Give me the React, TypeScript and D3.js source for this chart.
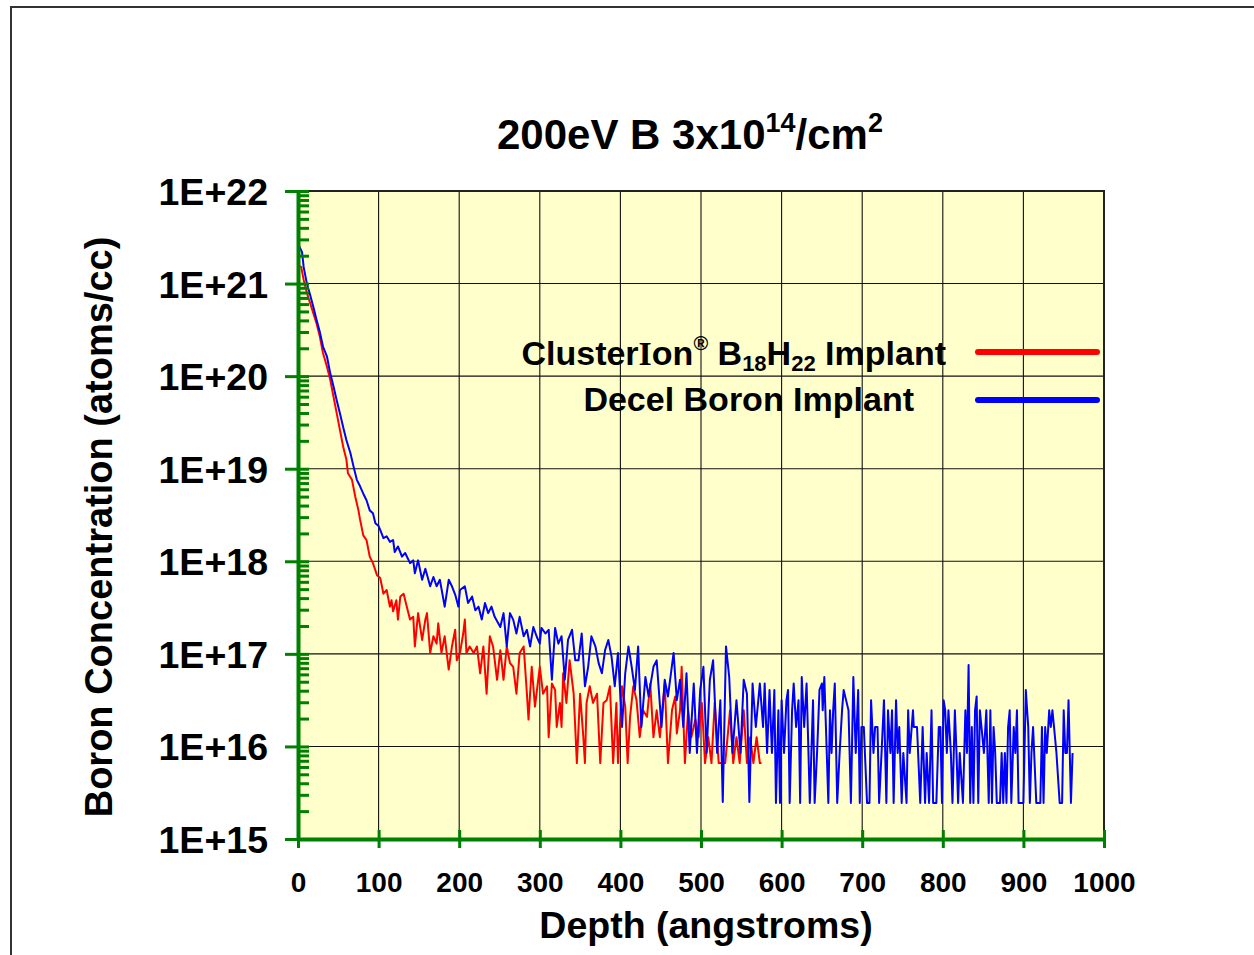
import React, { useRef, useEffect } from "react";
import * as d3 from "d3";

// depth (angstroms), log10 of boron concentration (atoms/cc)
const clusterIonProfile: [number, number][] = [
  [1, 21.19], [4, 21.18], [7, 21.04], [11, 20.9], [15, 20.79], [19, 20.68], [23, 20.57], [27, 20.43],
  [31, 20.25], [36, 20.1], [40, 19.96], [44, 19.78], [48, 19.6], [52, 19.42], [56, 19.24], [60, 19.1],
  [62, 18.95], [67, 18.88], [71, 18.7], [75, 18.55], [77, 18.45], [81, 18.28], [85, 18.23], [89, 18.05],
  [93, 17.98], [98, 17.85], [102, 17.82], [106, 17.65], [110, 17.69], [114, 17.51], [116, 17.58], [118, 17.46],
  [122, 17.58], [124, 17.37], [127, 17.62], [131, 17.65], [135, 17.51], [139, 17.37], [143, 17.4], [145, 17.08],
  [149, 17.44], [154, 17.15], [158, 17.37], [160, 17.44], [164, 17.01], [168, 17.19], [172, 17.11], [174, 17.33],
  [178, 17.01], [182, 17.19], [187, 16.83], [191, 17.08], [195, 17.26], [197, 16.93], [201, 17.01], [205, 17.22],
  [207, 17.37], [209, 17.01], [213, 17.08], [218, 17.01], [222, 17.08], [226, 16.79], [230, 17.08], [234, 16.57],
  [238, 17.19], [242, 17.08], [247, 16.72], [251, 17.04], [255, 16.72], [259, 17.08], [263, 16.9], [267, 16.86],
  [271, 16.57], [275, 17.01], [280, 17.08], [284, 16.57], [286, 16.29], [290, 16.86], [294, 16.43], [300, 16.86],
  [304, 16.57], [309, 16.65], [311, 16.1], [315, 16.68], [319, 16.61], [321, 16.21], [325, 16.47], [327, 16.21],
  [329, 16.79], [333, 16.47], [337, 16.93], [342, 16.57], [346, 15.82], [350, 16.57], [354, 16.1], [356, 15.82],
  [358, 16.47], [362, 16.65], [366, 16.47], [371, 16.57], [375, 15.82], [379, 16.47], [383, 16.5], [387, 16.65],
  [391, 15.82], [395, 16.47], [397, 15.82], [402, 16.65], [406, 16.43], [409, 15.82], [412, 16.32], [416, 16.65],
  [420, 16.5], [424, 16.1], [428, 16.39], [433, 16.32], [437, 16.68], [441, 16.1], [445, 16.39], [449, 16.1],
  [455, 16.68], [459, 15.82], [464, 16.39], [468, 16.54], [470, 16.14], [474, 16.39], [476, 16.86], [480, 15.82],
  [484, 16.39], [488, 16.1], [493, 16.29], [497, 16.1], [501, 16.47], [505, 15.82], [509, 16.1], [513, 15.82],
  [517, 16.47], [522, 15.82], [530, 15.82], [536, 16.39], [540, 15.82], [544, 16.1], [548, 15.82], [553, 16.39],
  [557, 15.82], [561, 16.1], [565, 15.82], [569, 16.1], [573, 15.82], [575, 15.82],
];

const decelBoronProfile: [number, number][] = [
  [0, 21.43], [5, 21.34], [7, 21.18], [11, 21.0], [15, 20.88], [19, 20.75], [23, 20.61], [27, 20.48],
  [31, 20.32], [36, 20.21], [40, 20.03], [44, 19.89], [48, 19.74], [52, 19.6], [56, 19.45], [60, 19.31],
  [65, 19.17], [69, 19.02], [73, 18.88], [77, 18.81], [81, 18.73], [85, 18.66], [89, 18.55], [93, 18.52],
  [96, 18.41], [100, 18.38], [102, 18.34], [106, 18.25], [110, 18.27], [114, 18.21], [118, 18.23], [120, 18.1],
  [124, 18.16], [129, 18.05], [133, 18.09], [139, 17.98], [143, 18.01], [145, 17.87], [149, 18.01], [154, 17.8],
  [158, 17.92], [164, 17.73], [168, 17.83], [172, 17.73], [176, 17.8], [182, 17.51], [187, 17.8], [191, 17.73],
  [195, 17.64], [199, 17.51], [201, 17.69], [207, 17.73], [211, 17.55], [216, 17.62], [220, 17.47], [224, 17.51],
  [228, 17.37], [232, 17.55], [236, 17.44], [240, 17.51], [244, 17.4], [251, 17.29], [255, 17.44], [259, 17.08],
  [263, 17.44], [267, 17.37], [271, 17.22], [275, 17.4], [280, 17.19], [284, 17.26], [288, 17.08], [292, 17.29],
  [296, 17.19], [300, 17.11], [302, 17.28], [307, 17.22], [311, 17.26], [315, 16.72], [319, 17.28], [323, 17.11],
  [327, 17.19], [331, 16.72], [335, 17.15], [340, 17.26], [344, 16.93], [348, 16.93], [352, 17.22], [356, 16.65],
  [360, 16.86], [364, 17.19], [369, 17.08], [373, 16.9], [377, 16.79], [381, 17.04], [385, 17.15], [389, 16.97],
  [393, 16.65], [397, 17.01], [402, 16.21], [406, 16.79], [410, 17.08], [414, 16.86], [418, 16.61], [422, 17.08],
  [426, 16.21], [431, 16.75], [435, 16.54], [441, 16.86], [445, 16.93], [451, 16.21], [455, 16.72], [459, 16.54],
  [466, 17.01], [470, 16.5], [474, 16.72], [478, 16.21], [482, 16.79], [486, 15.93], [491, 16.68], [495, 15.93],
  [499, 16.61], [503, 16.86], [507, 15.93], [511, 16.72], [515, 16.93], [520, 15.93], [524, 16.5], [527, 15.4],
  [531, 17.08], [535, 16.75], [539, 15.93], [544, 16.5], [549, 15.93], [553, 16.72], [557, 16.57], [560, 15.4],
  [564, 16.68], [568, 16.21], [573, 16.68], [577, 16.21], [579, 16.68], [582, 15.93], [585, 16.61], [588, 15.93],
  [591, 16.61], [593, 15.39], [596, 16.39], [598, 15.39], [600, 16.5], [603, 15.93], [606, 16.5], [608, 16.61],
  [610, 15.39], [613, 16.39], [615, 16.68], [618, 16.21], [621, 16.5], [623, 15.39], [625, 16.75], [628, 16.21],
  [631, 16.68], [635, 15.39], [639, 16.5], [641, 15.39], [644, 15.93], [647, 16.61], [650, 16.68], [651, 16.39],
  [653, 16.75], [655, 16.21], [658, 15.39], [660, 16.39], [662, 15.93], [664, 16.39], [666, 16.68], [669, 15.39],
  [672, 15.93], [675, 16.39], [677, 16.61], [680, 16.5], [683, 16.39], [686, 15.39], [689, 16.75], [692, 15.93],
  [695, 16.61], [697, 15.39], [699, 16.21], [702, 16.21], [706, 15.39], [709, 15.39], [711, 16.5], [714, 15.93],
  [716, 16.21], [719, 16.21], [721, 15.39], [724, 15.93], [727, 16.5], [730, 15.39], [732, 16.39], [735, 15.93],
  [737, 16.39], [739, 15.39], [742, 16.5], [744, 15.93], [746, 16.21], [749, 15.39], [751, 15.93], [755, 15.39],
  [757, 16.39], [759, 15.93], [763, 16.39], [764, 16.21], [768, 16.21], [772, 15.39], [775, 16.21], [778, 15.39],
  [780, 15.93], [783, 15.39], [786, 16.39], [788, 15.39], [792, 15.39], [795, 16.21], [797, 16.21], [799, 15.39],
  [801, 16.5], [803, 16.39], [805, 15.93], [807, 16.39], [810, 15.93], [812, 15.39], [815, 16.39], [817, 15.93],
  [819, 15.39], [821, 15.93], [825, 15.39], [828, 16.39], [830, 15.93], [832, 16.88], [834, 15.39], [836, 16.21],
  [838, 15.39], [840, 16.39], [842, 16.54], [844, 15.39], [846, 16.39], [848, 16.21], [851, 15.93], [854, 16.39],
  [857, 15.39], [859, 16.39], [861, 15.39], [863, 16.21], [865, 15.93], [867, 15.39], [871, 15.39], [873, 15.93],
  [875, 15.39], [877, 15.93], [879, 15.39], [881, 16.21], [883, 16.39], [885, 15.39], [888, 16.21], [890, 15.93],
  [892, 16.39], [894, 15.39], [900, 15.39], [903, 16.61], [906, 16.21], [908, 15.39], [910, 15.93], [912, 16.21],
  [916, 15.39], [921, 15.39], [923, 16.21], [925, 15.39], [927, 16.21], [929, 15.93], [932, 16.39], [934, 16.21],
  [936, 16.39], [938, 16.21], [941, 15.93], [945, 15.39], [948, 15.39], [950, 16.39], [952, 15.93], [954, 15.93],
  [956, 16.5], [959, 15.39], [961, 15.93],
];

const xTickValues = [0, 100, 200, 300, 400, 500, 600, 700, 800, 900, 1000];
const yDecades = [15, 16, 17, 18, 19, 20, 21, 22];
const yTickLabels = ["1E+15", "1E+16", "1E+17", "1E+18", "1E+19", "1E+20", "1E+21", "1E+22"];
const seriesNames = ["ClusterIon B18H22 Implant", "Decel Boron Implant"];
const seriesColors = ["#ff0000", "#0000ff"];

const FONT = "'Liberation Sans', Arial, Helvetica, sans-serif";

const BoronChart = () => {
  const svgRef = useRef<SVGSVGElement | null>(null);

  useEffect(() => {
    const width = 1254;
    const height = 955;
    const plot = { left: 298, top: 191, right: 1104, bottom: 839 };
    const axisGreen = "#008000";

    const svg = d3.select(svgRef.current);
    svg.selectAll("*").remove();

    const x = d3.scaleLinear().domain([0, 1000]).range([plot.left, plot.right]);
    const y = d3.scaleLog().domain([1e15, 1e22]).range([plot.bottom, plot.top]);

    // outer frame (only top/left visible in the crop)
    svg.append("path")
      .attr("d", `M11,${height + 5} V7 H${width + 5}`)
      .attr("fill", "none")
      .attr("stroke", "#333")
      .attr("stroke-width", 2);

    // plot background
    svg.append("rect")
      .attr("x", plot.left)
      .attr("y", plot.top)
      .attr("width", plot.right - plot.left)
      .attr("height", plot.bottom - plot.top)
      .attr("fill", "#ffffcc");

    // grid
    const grid = svg.append("g").attr("stroke", "#111").attr("stroke-width", 1.1);
    grid.selectAll("line.h")
      .data(yDecades.slice(1))
      .enter()
      .append("line")
      .attr("x1", plot.left)
      .attr("x2", plot.right)
      .attr("y1", (d) => y(Math.pow(10, d)))
      .attr("y2", (d) => y(Math.pow(10, d)));
    grid.selectAll("line.v")
      .data(xTickValues.slice(1))
      .enter()
      .append("line")
      .attr("y1", plot.top)
      .attr("y2", plot.bottom)
      .attr("x1", (d) => x(d))
      .attr("x2", (d) => x(d));

    // top + right border
    svg.append("path")
      .attr("d", `M${plot.left},${plot.top} H${plot.right} V${plot.bottom}`)
      .attr("fill", "none")
      .attr("stroke", "#222")
      .attr("stroke-width", 2);

    // data
    const line = d3.line<[number, number]>()
      .x((d) => x(d[0]))
      .y((d) => y(Math.pow(10, d[1])));

    [clusterIonProfile, decelBoronProfile].forEach((data, i) => {
      svg.append("path")
        .datum(data)
        .attr("d", line)
        .attr("fill", "none")
        .attr("stroke", seriesColors[i])
        .attr("stroke-width", 2)
        .attr("stroke-linejoin", "round");
    });

    // y axis
    const yTicks = y.ticks();
    const isMajor = (d: number) => Math.abs(Math.log10(d) - Math.round(Math.log10(d))) < 1e-6;
    const yAxis = svg.append("g")
      .attr("transform", `translate(${plot.left},0)`)
      .call(
        d3.axisLeft(y)
          .tickValues(yTicks)
          .tickSizeOuter(0)
          .tickFormat((d: any) => (isMajor(d) ? yTickLabels[yDecades.indexOf(Math.round(Math.log10(d)))] : ""))
      );
    yAxis.select(".domain").attr("stroke", axisGreen).attr("stroke-width", 4);
    yAxis.selectAll(".tick line")
      .attr("stroke", axisGreen)
      .attr("stroke-width", 3)
      .attr("x1", (d: any) => (isMajor(d) ? -13 : 0))
      .attr("x2", 11);
    yAxis.selectAll(".tick text")
      .attr("x", -30)
      .attr("dy", "0.36em")
      .attr("fill", "#000")
      .style("font-family", FONT)
      .style("font-weight", "bold")
      .style("font-size", "37.5px");

    // x axis
    const xAxis = svg.append("g")
      .attr("transform", `translate(0,${plot.bottom})`)
      .call(d3.axisBottom(x).tickValues(xTickValues).tickSizeOuter(0).tickFormat((d: any) => String(d)));
    xAxis.select(".domain").attr("stroke", axisGreen).attr("stroke-width", 4);
    xAxis.selectAll(".tick line")
      .attr("stroke", axisGreen)
      .attr("stroke-width", 3)
      .attr("y1", -9)
      .attr("y2", 9);
    xAxis.selectAll(".tick text")
      .attr("y", 53)
      .attr("dy", 0)
      .attr("fill", "#000")
      .style("font-family", FONT)
      .style("font-weight", "bold")
      .style("font-size", "28px");

    const text = (xx: number, yy: number, size: number, anchor = "middle") =>
      svg.append("text")
        .attr("x", xx)
        .attr("y", yy)
        .attr("text-anchor", anchor)
        .style("font-family", FONT)
        .style("font-weight", "bold")
        .style("font-size", `${size}px`)
        .attr("fill", "#000");

    // title
    const title = text(690, 149, 42);
    title.append("tspan").text("200eV B 3x10");
    title.append("tspan").attr("dy", -17).style("font-size", "27px").text("14");
    title.append("tspan").attr("dy", 17).text("/cm");
    title.append("tspan").attr("dy", -17).style("font-size", "27px").text("2");

    // axis titles
    text(706, 938, 37.5).text("Depth (angstroms)");
    text(0, 0, 38)
      .attr("transform", "translate(112,527) rotate(-90)")
      .text("Boron Concentration (atoms/cc)");

    // legend
    const l1 = text(946, 365, 34, "end");
    l1.append("tspan").text("Cluster");
    l1.append("tspan").style("font-family", "'Liberation Serif', 'Times New Roman', serif").text("I");
    l1.append("tspan").text("on");
    l1.append("tspan").attr("dy", -15).style("font-size", "20px").text("®");
    l1.append("tspan").attr("dy", 15).text(" B");
    l1.append("tspan").attr("dy", 6).style("font-size", "22px").text("18");
    l1.append("tspan").attr("dy", -6).text("H");
    l1.append("tspan").attr("dy", 6).style("font-size", "22px").text("22");
    l1.append("tspan").attr("dy", -6).text(" Implant");
    l1.attr("aria-label", seriesNames[0]);

    text(914, 411, 34, "end").text(seriesNames[1]);

    [352, 400].forEach((ly, i) => {
      svg.append("line")
        .attr("x1", 978)
        .attr("x2", 1097)
        .attr("y1", ly)
        .attr("y2", ly)
        .attr("stroke", seriesColors[i])
        .attr("stroke-width", 6)
        .attr("stroke-linecap", "round");
    });
  }, []);

  return (
    <svg
      ref={svgRef}
      width={1254}
      height={955}
      style={{ position: "absolute", left: 0, top: 0, display: "block", background: "#fff" }}
    />
  );
};

export default function App() {
  return <BoronChart />;
}
